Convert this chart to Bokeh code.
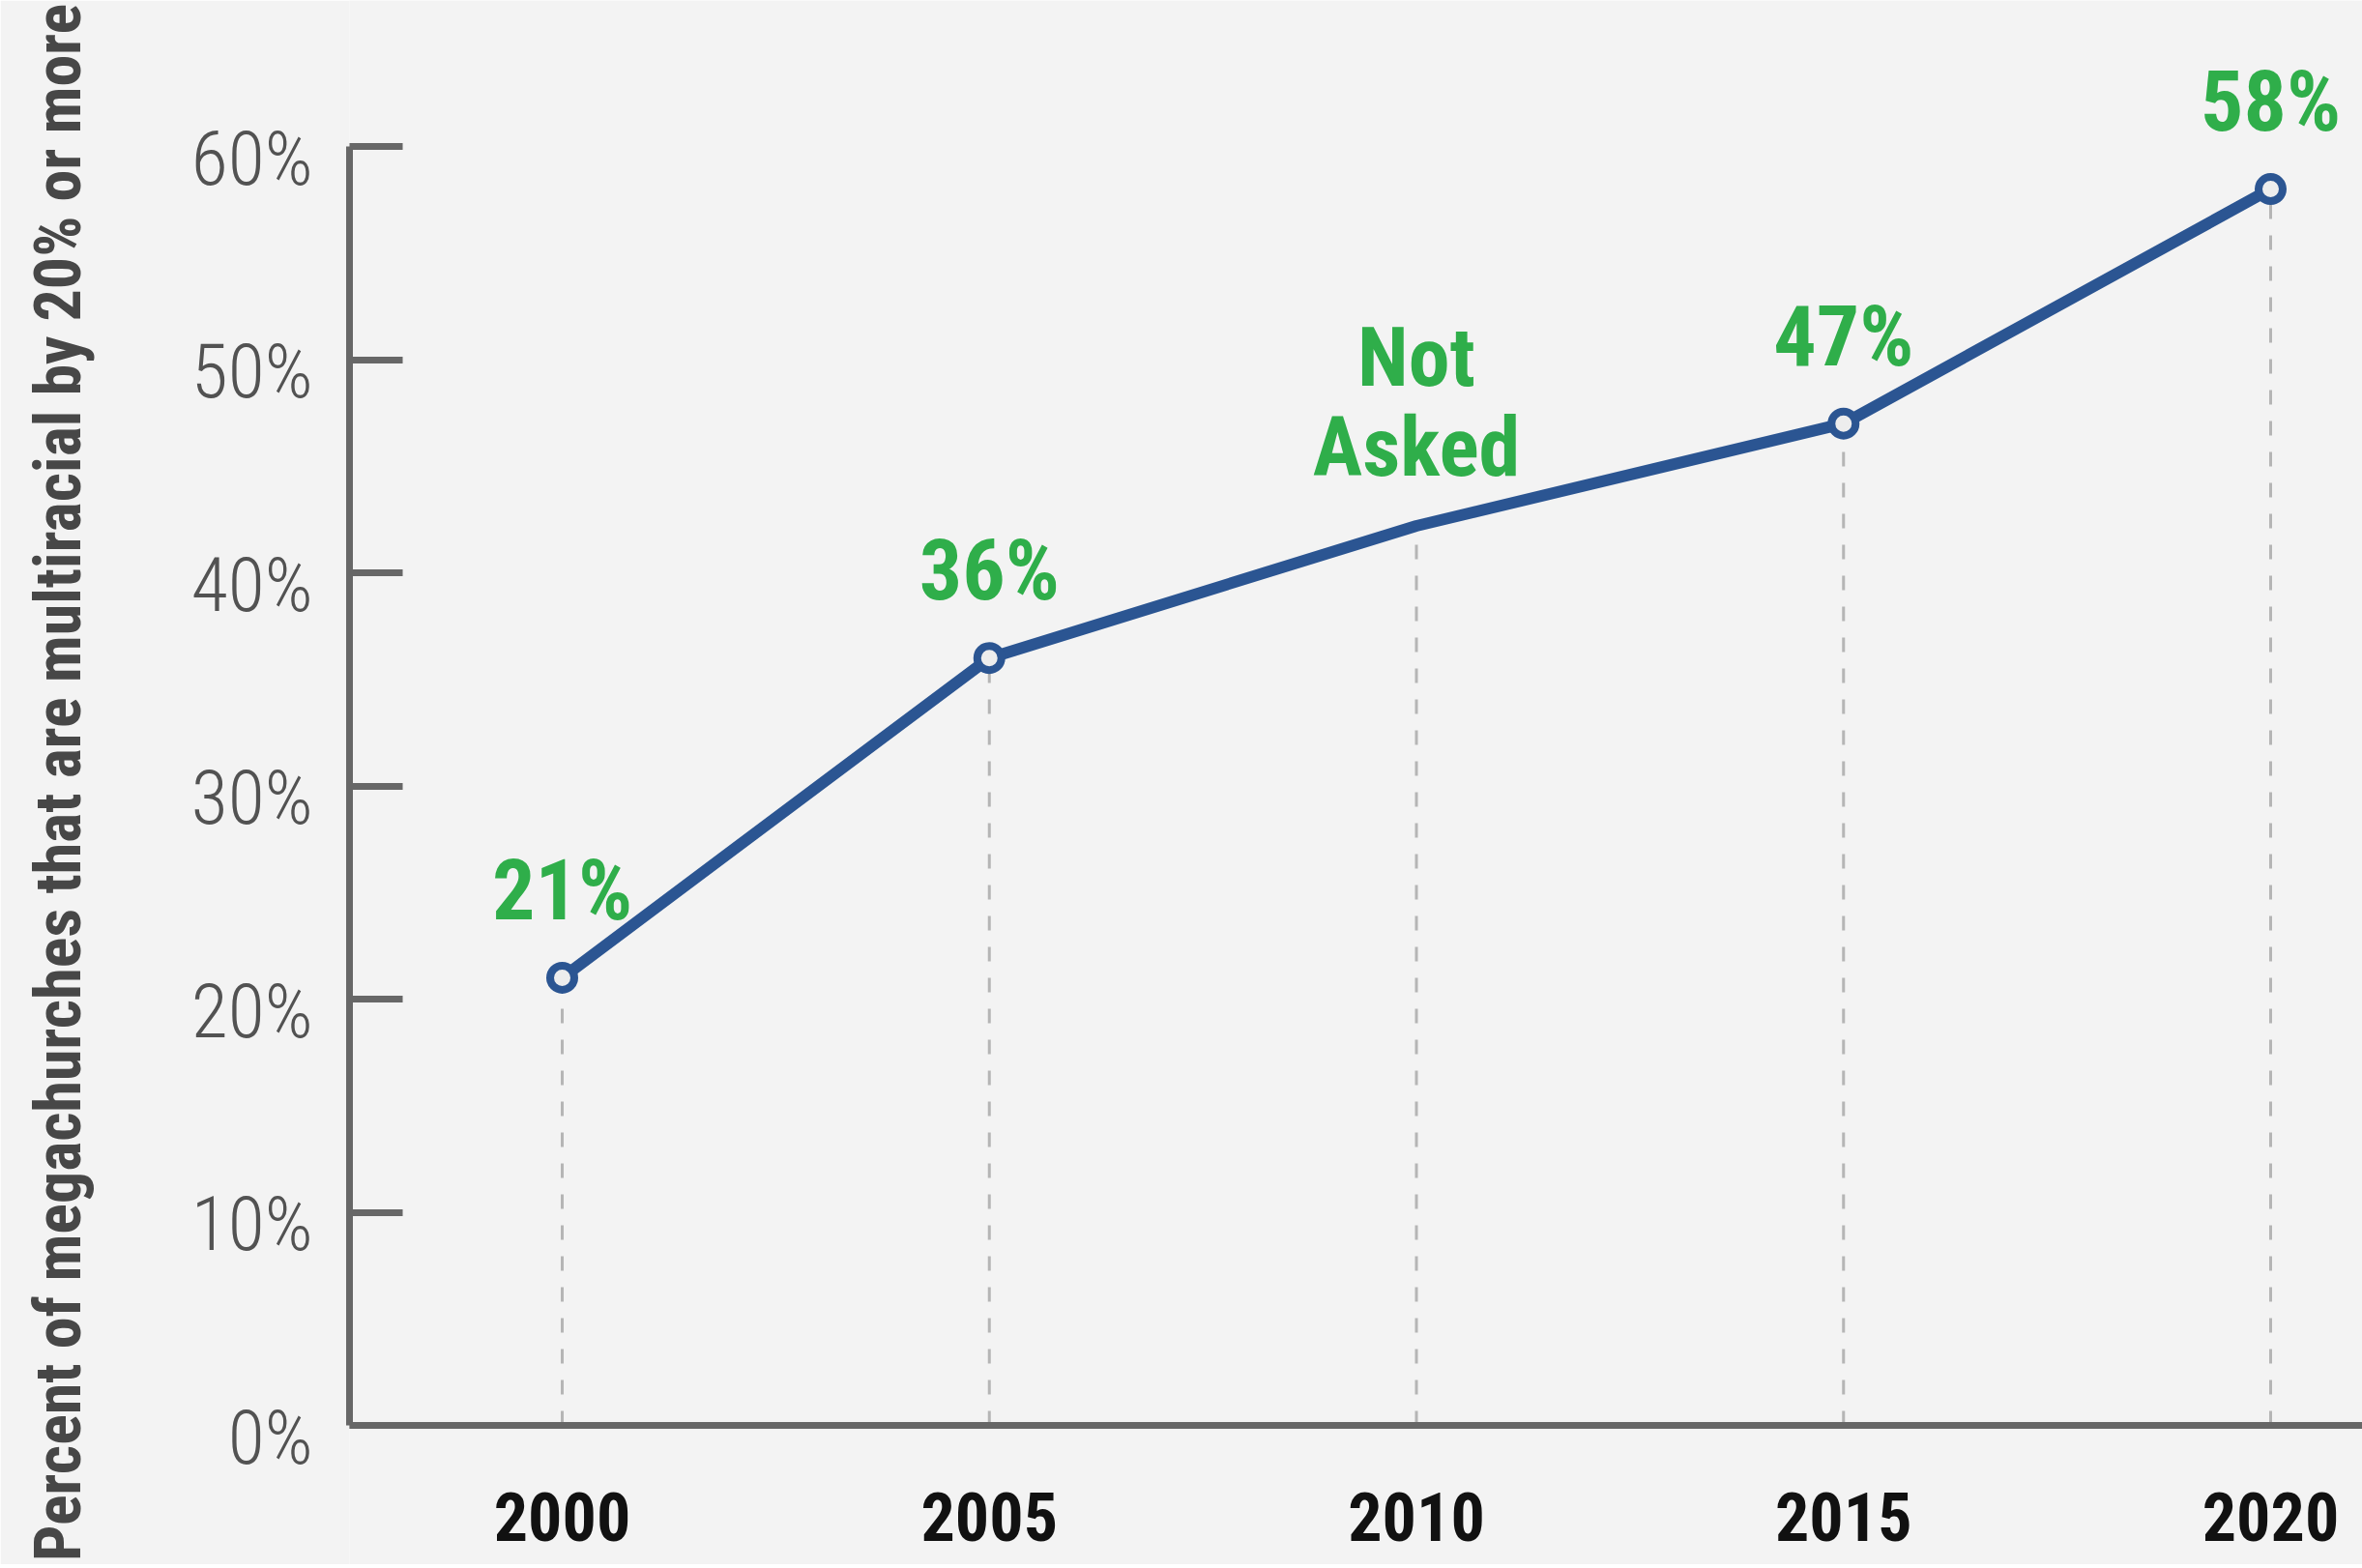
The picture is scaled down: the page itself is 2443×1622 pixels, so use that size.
from bokeh.plotting import figure
from bokeh.models import Range1d, LinearAxis, FixedTicker, Span
from bokeh.embed import file_html
from bokeh.resources import INLINE
from bokeh.core.properties import value

# ---- data ----
years = [2000, 2005, 2010, 2015, 2020]
pct = [21, 36, 42.2, 47, 58]            # 2010 value = where the line passes (not asked)
asked = [True, True, False, True, True]
point_labels = ["21%", "36%", "Not\nAsked", "47%", "58%"]
y_ticks = [0, 10, 20, 30, 40, 50, 60]
y_tick_labels = ["0%", "10%", "20%", "30%", "40%", "50%", "60%"]
x_tick_labels = ["2000", "2005", "2010", "2015", "2020"]
y_title = "Percent of megachurches that are multiracial by 20% or more"

# ---- style / layout ----
BG = "#f3f3f3"
AXIS = "#676767"
BLUE = "#2b5592"
GREEN = "#2fae4a"
DASH = "#b5b5b5"
COND = "Roboto Condensed"
COND_LIGHT = "Roboto Condensed Light"

W, H = 2443, 1618
LEFT = 361                 # frame left (px)
ZERO_PX = 1474             # pixel row of the 0 line
PX_PER_UNIT = 22.05
PX_PER_YEAR = 88.35
X_FIRST_PX = 581           # pixel column of the first year

X0 = years[0] - (X_FIRST_PX - LEFT) / PX_PER_YEAR
X1 = X0 + (W - LEFT) / PX_PER_YEAR
Y1 = ZERO_PX / PX_PER_UNIT
Y0 = -(H - ZERO_PX) / PX_PER_UNIT
LABEL_SHIFT = 12.5 / PX_PER_UNIT

p = figure(width=W, height=H,
           x_range=Range1d(X0, X1), y_range=Range1d(Y0, Y1),
           x_axis_location=None, y_axis_location=None,
           output_backend="svg", toolbar_location=None,
           min_border_left=LEFT, min_border_right=0, min_border_top=0, min_border_bottom=0,
           background_fill_color=BG, border_fill_color=BG, outline_line_color=None)
p.grid.grid_line_color = None

# main y axis: line + inward ticks
yax = LinearAxis(ticker=FixedTicker(ticks=y_ticks), bounds=(0, 60),
                 axis_line_color=AXIS, axis_line_width=7,
                 major_tick_line_color=AXIS, major_tick_line_width=7,
                 major_tick_in=55, major_tick_out=0, minor_tick_line_color=None,
                 major_label_overrides={t: "" for t in y_ticks},
                 major_label_text_font_size="0px", major_label_standoff=0)
p.add_layout(yax, "left")

# label axis (tick labels sit slightly below their ticks) + axis title
p.extra_y_ranges = {"labels": Range1d(Y0 + LABEL_SHIFT, Y1 + LABEL_SHIFT)}
lab = LinearAxis(y_range_name="labels", ticker=FixedTicker(ticks=y_ticks),
                 axis_line_color=None, major_tick_line_color=None, minor_tick_line_color=None,
                 major_tick_in=0, major_tick_out=0,
                 major_label_overrides={t: s for t, s in zip(y_ticks, y_tick_labels)},
                 major_label_text_font=COND_LIGHT, major_label_text_font_size="78px",
                 major_label_text_color="#525252", major_label_standoff=38,
                 axis_label=y_title, axis_label_text_font=COND, axis_label_text_font_style="bold",
                 axis_label_text_font_size="66px", axis_label_text_color="#474747",
                 axis_label_standoff=96)
p.add_layout(lab, "left")

# x axis line at 0
p.add_layout(Span(location=0, dimension="width", line_color=AXIS, line_width=7))

# x tick labels (years)
p.text(x=years, y=[0] * len(years), text=x_tick_labels, text_align="center",
       text_baseline="middle", y_offset=94, text_font=value(COND), text_font_style="bold",
       text_font_size="70px", text_color="#111111")

# dashed drop lines
p.segment(x0=years, y0=[0] * len(years), x1=years, y1=pct,
          line_color=DASH, line_width=3, line_dash="15 17")

# main line
p.line(years, pct, line_color=BLUE, line_width=12, line_join="round")

ax_x = [x for x, a in zip(years, asked) if a]
ax_y = [y for y, a in zip(pct, asked) if a]
ax_t = [t for t, a in zip(point_labels, asked) if a]
na_x = [x for x, a in zip(years, asked) if not a]
na_y = [y for y, a in zip(pct, asked) if not a]
na_t = [t for t, a in zip(point_labels, asked) if not a]

p.scatter(ax_x, ax_y, marker="circle", size=25, fill_color="#ededed",
          line_color=BLUE, line_width=8)

p.text(x=ax_x, y=ax_y, text=ax_t, text_align="center", text_baseline="middle",
       y_offset=-91, text_font=value(COND), text_font_style="bold", text_font_size="88px",
       text_color=GREEN)
p.text(x=na_x, y=na_y, text=na_t, text_align="center", text_baseline="middle",
       y_offset=-128, text_font=value(COND), text_font_style="bold", text_font_size="86px",
       text_line_height=0.93, text_color=GREEN)

open("out.html", "w").write(file_html(p, INLINE))
